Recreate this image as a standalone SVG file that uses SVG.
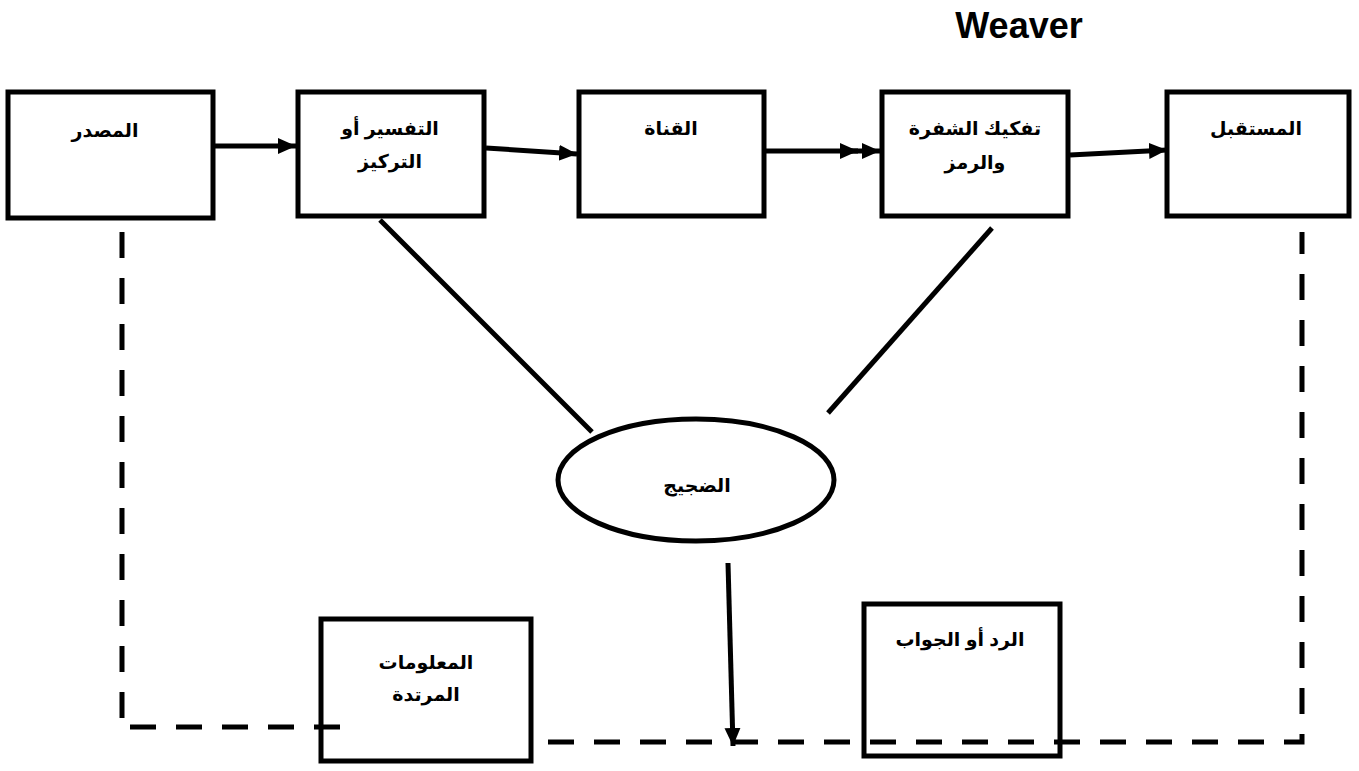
<svg xmlns="http://www.w3.org/2000/svg" width="1359" height="771" viewBox="0 0 1359 771">
<style>
.box{fill:#fff;stroke:#000;stroke-width:5}
.t{font-family:"Liberation Sans","DejaVu Sans",sans-serif;font-weight:bold;font-size:19px;text-anchor:middle;fill:#000}
.ln{stroke:#000;stroke-width:5;fill:none}
.dash{stroke:#000;stroke-width:5;fill:none;stroke-dasharray:26 20}
</style>
<defs>
<marker id="ah" markerUnits="userSpaceOnUse" markerWidth="20" markerHeight="18" refX="18" refY="8" orient="auto">
<path d="M0,0 L18,8 L0,16 Z" fill="#000"/>
</marker>
</defs>
<rect width="1359" height="771" fill="#fff"/>
<text x="1019" y="38" font-family="Liberation Sans, Arial, sans-serif" font-weight="bold" font-size="36" text-anchor="middle">Weaver</text>
<g id="connectors">
<line class="ln" x1="215" y1="146" x2="296" y2="146" marker-end="url(#ah)"/>
<line class="ln" x1="486" y1="148" x2="577" y2="154" marker-end="url(#ah)"/>
<line class="ln" x1="766" y1="151" x2="858" y2="151" marker-end="url(#ah)"/>
<line class="ln" x1="850" y1="151" x2="880" y2="151" marker-end="url(#ah)"/>
<line class="ln" x1="1070" y1="155" x2="1167" y2="150" marker-end="url(#ah)"/>
<line class="ln" x1="380" y1="220" x2="592" y2="432"/>
<line class="ln" x1="992" y1="228" x2="828" y2="413"/>
<line class="ln" x1="728" y1="563" x2="733" y2="746" marker-end="url(#ah)"/>
<line class="dash" x1="122" y1="232" x2="122" y2="722"/>
<line class="dash" x1="130" y1="727" x2="340" y2="727"/>
<path class="dash" d="M548,742 L1302,742 L1302,232" stroke-dasharray="10 10 26 20 26 20"/>
</g>
<g id="n-source"><rect class="box" x="8" y="92" width="205" height="126"/><text class="t" x="105" y="137">المصدر</text></g>
<g id="n-encode"><rect class="box" x="298" y="92" width="186" height="124"/><text class="t" x="390" y="135">التفسير أو</text><text class="t" x="390" y="168">التركيز</text></g>
<g id="n-channel"><rect class="box" x="579" y="92" width="185" height="124"/><text class="t" x="671" y="135">القناة</text></g>
<g id="n-decode"><rect class="box" x="882" y="92" width="186" height="124"/><text class="t" x="975" y="135">تفكيك الشفرة</text><text class="t" x="975" y="169">والرمز</text></g>
<g id="n-receiver"><rect class="box" x="1167" y="92" width="182" height="124"/><text class="t" x="1256" y="135">المستقبل</text></g>
<g id="n-noise"><ellipse cx="696" cy="480" rx="138" ry="61" fill="#fff" stroke="#000" stroke-width="5"/><text class="t" x="697" y="492">الضجيج</text></g>
<g id="n-feedback"><rect class="box" x="321" y="619" width="210" height="142" style="fill:none"/><text class="t" x="426" y="669">المعلومات</text><text class="t" x="426" y="701">المرتدة</text></g>
<g id="n-response"><rect class="box" x="864" y="604" width="196" height="152" style="fill:none"/><text class="t" x="960" y="646">الرد أو الجواب</text></g>
</svg>
